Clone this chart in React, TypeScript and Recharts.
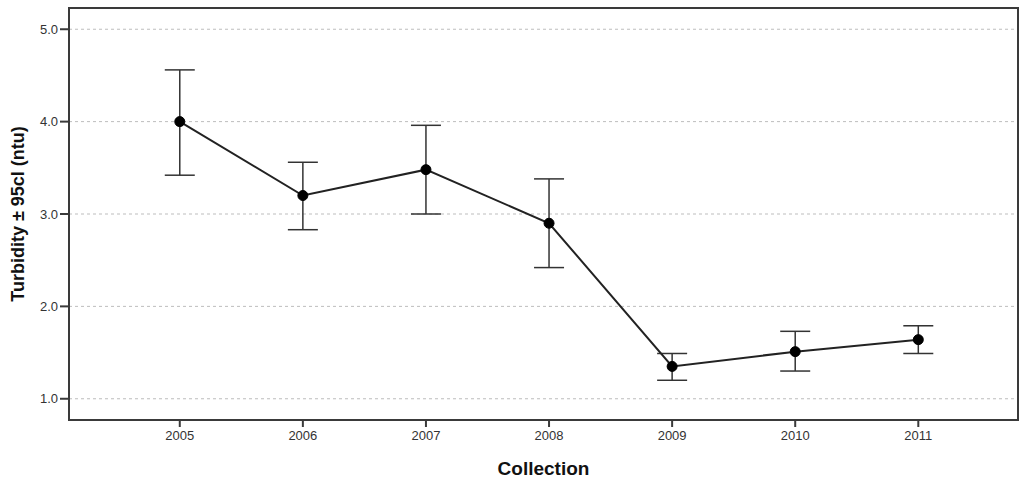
import { LineChart, Line, XAxis, YAxis, CartesianGrid, ErrorBar, ReferenceArea } from 'recharts'

const years = [2005, 2006, 2007, 2008, 2009, 2010, 2011]
const means = [4.0, 3.2, 3.48, 2.9, 1.35, 1.51, 1.64]
const lower = [3.42, 2.83, 3.0, 2.42, 1.2, 1.3, 1.49]
const upper = [4.56, 3.56, 3.96, 3.38, 1.49, 1.73, 1.79]
const yTicks = [1, 2, 3, 4, 5]
const xDomain = [2004.1, 2011.81]
const yDomain = [0.77, 5.23]

const data = years.map((year, i) => ({
    year,
    mean: means[i],
    ci: [means[i] - lower[i], upper[i] - means[i]],
}))

const AXIS = '#3a3a3a'
const tickStyle = { fill: '#333', fontSize: 13, fontFamily: 'Liberation Sans, Arial, sans-serif' }

export default function App() {
    return (
        <div style={{ position: 'absolute', left: 0, top: 0, width: 1020, height: 483, background: '#fff' }}>
            <LineChart width={1020} height={483} data={data} margin={{ top: 8, right: 2, bottom: 0, left: 0 }}>
                <CartesianGrid horizontal vertical={false} stroke="#bdbdbd" strokeDasharray="3 3" horizontalValues={yTicks} />
                <ReferenceArea
                    x1={xDomain[0]}
                    x2={xDomain[1]}
                    y1={yDomain[0]}
                    y2={yDomain[1]}
                    fill="none"
                    fillOpacity={0}
                    stroke={AXIS}
                    strokeWidth={2}
                    ifOverflow="visible"
                />
                <XAxis
                    dataKey="year"
                    type="number"
                    domain={xDomain}
                    ticks={years}
                    allowDataOverflow
                    stroke={AXIS}
                    strokeWidth={2}
                    tick={tickStyle}
                    tickSize={7}
                    tickMargin={4}
                    height={63}
                    label={{
                        value: 'Collection',
                        position: 'insideBottom',
                        offset: 8,
                        style: { fill: '#111', fontSize: 19, fontWeight: 'bold', fontFamily: 'Liberation Sans, Arial, sans-serif' },
                    }}
                />
                <YAxis
                    type="number"
                    domain={yDomain}
                    ticks={yTicks}
                    allowDataOverflow
                    tickFormatter={(v: number) => v.toFixed(1)}
                    stroke={AXIS}
                    strokeWidth={2}
                    tick={tickStyle}
                    tickSize={9}
                    tickMargin={2}
                    width={69}
                    label={{
                        value: 'Turbidity ± 95cl (ntu)',
                        angle: -90,
                        position: 'insideLeft',
                        offset: 0,
                        dx: 18,
                        style: { textAnchor: 'middle', fill: '#111', fontSize: 18, fontWeight: 'bold', fontFamily: 'Liberation Sans, Arial, sans-serif' },
                    }}
                />
                <Line
                    dataKey="mean"
                    stroke="#222"
                    strokeWidth={2}
                    dot={{ r: 5, fill: '#000', stroke: '#000', strokeWidth: 1 }}
                    activeDot={false}
                    isAnimationActive={false}
                >
                    <ErrorBar dataKey="ci" width={15} stroke="#333" strokeWidth={1.5} direction="y" isAnimationActive={false} />
                </Line>
            </LineChart>
        </div>
    )
}
